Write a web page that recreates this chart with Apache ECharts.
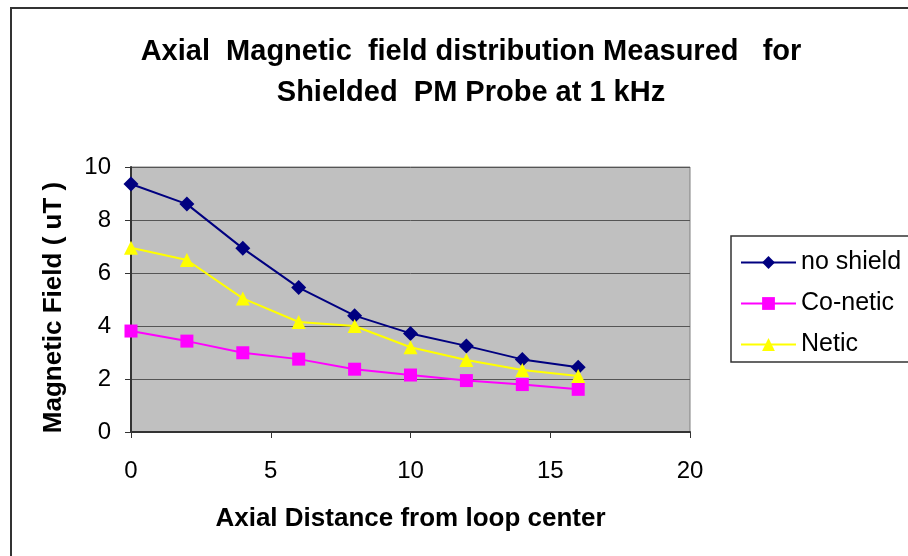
<!DOCTYPE html>
<html><head><meta charset="utf-8">
<script src="https://cdn.jsdelivr.net/npm/echarts@6/dist/echarts.min.js"></script>
<style>html,body{margin:0;padding:0;background:#fff}#c{width:908px;height:556px}</style>
</head><body><div id="c"></div>
<script>
const distances = [0, 2, 4, 6, 8, 10, 12, 14, 16];
const noShield = [9.36, 8.6, 6.93, 5.45, 4.39, 3.72, 3.25, 2.74, 2.44];
const coNetic = [3.81, 3.43, 2.99, 2.75, 2.37, 2.15, 1.94, 1.79, 1.61];
const netic = [6.95, 6.49, 5.04, 4.15, 4.0, 3.2, 2.72, 2.34, 2.11];
const seriesNames = ['no shield', 'Co-netic', 'Netic'];

const pair = (vals) => distances.map((d, i) => [d, vals[i]]);
const font = '"Liberation Sans", Arial, sans-serif';
const chart = echarts.init(document.getElementById('c'));
chart.setOption({
  animation: false,
  backgroundColor: '#fff',
  title: {
    text: 'Axial  Magnetic  field distribution Measured   for\nShielded  PM Probe at 1 kHz',
    left: 466, top: 26, textAlign: 'center',
    textStyle: { fontFamily: font, fontSize: 29, fontWeight: 'bold', color: '#000', lineHeight: 41 }
  },
  graphic: [
    { type: 'rect', shape: { x: 11, y: 8, width: 1000, height: 1000 }, style: { fill: 'none', stroke: '#333', lineWidth: 2 }, z: 0 },
    { type: 'rect', shape: { x: 731, y: 236, width: 300, height: 126 }, style: { fill: '#fff', stroke: '#333', lineWidth: 1.5 }, z: 1 }
  ],
  legend: {
    orient: 'vertical', left: 735, top: 245, itemGap: 16, itemWidth: 55, itemHeight: 16,
    data: seriesNames, z: 5,
    textStyle: { fontFamily: font, fontSize: 25, color: '#000' }
  },
  grid: { left: 131, right: 218, top: 167, bottom: 124, show: true, backgroundColor: '#c0c0c0', borderColor: '#808080', borderWidth: 1 },
  xAxis: {
    type: 'value', min: 0, max: 20, interval: 5,
    name: 'Axial Distance from loop center', nameLocation: 'middle', nameGap: 74,
    nameTextStyle: { fontFamily: font, fontSize: 26, fontWeight: 'bold', color: '#000' },
    axisLine: { show: true, lineStyle: { color: '#333', width: 2 } },
    axisTick: { show: true, length: 6, lineStyle: { color: '#333' } },
    axisLabel: { fontFamily: font, fontSize: 24, color: '#000', margin: 27 },
    splitLine: { show: false }
  },
  yAxis: {
    type: 'value', min: 0, max: 10, interval: 2,
    name: 'Magnetic Field ( uT )', nameLocation: 'middle', nameGap: 64, nameRotate: 90,
    nameTextStyle: { fontFamily: font, fontSize: 26, fontWeight: 'bold', color: '#000', padding: [0, 16, 0, 0] },
    axisLine: { show: true, lineStyle: { color: '#333', width: 2 } },
    axisTick: { show: true, length: 6, lineStyle: { color: '#333' } },
    axisLabel: { fontFamily: font, fontSize: 24, color: '#000', margin: 20 },
    splitLine: { show: true, lineStyle: { color: '#555', width: 1 } }
  },
  series: [
    { name: seriesNames[0], type: 'line', data: pair(noShield), symbol: 'diamond', symbolSize: 15,
      lineStyle: { color: '#000080', width: 2 }, itemStyle: { color: '#000080' } },
    { name: seriesNames[1], type: 'line', data: pair(coNetic), symbol: 'rect', symbolSize: 13,
      lineStyle: { color: '#ff00ff', width: 2 }, itemStyle: { color: '#ff00ff' } },
    { name: seriesNames[2], type: 'line', data: pair(netic), symbol: 'triangle', symbolSize: 14,
      lineStyle: { color: '#ffff00', width: 2 }, itemStyle: { color: '#ffff00' } }
  ]
});
</script></body></html>
